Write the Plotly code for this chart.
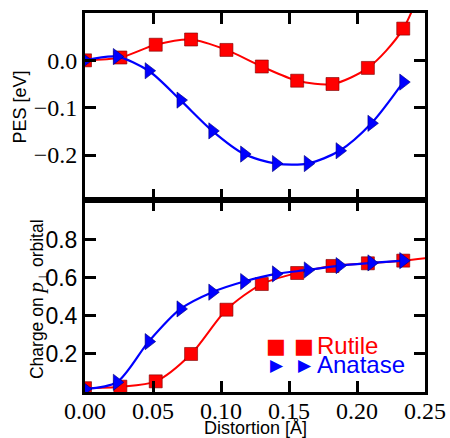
import plotly.graph_objects as go

# Data
rutile_x = [0.0, 0.026, 0.052, 0.078, 0.104, 0.130, 0.156, 0.182, 0.208, 0.234, 0.260]
rutile_pes = [0.0, 0.006, 0.033, 0.044, 0.022, -0.013, -0.043, -0.050, -0.016, 0.067, 0.26]
rutile_chg = [0.02, 0.028, 0.056, 0.20, 0.433, 0.568, 0.626, 0.663, 0.677, 0.691, 0.712]

anatase_x = [0.0, 0.0234, 0.0468, 0.0702, 0.0936, 0.117, 0.1404, 0.1638, 0.1872, 0.2106, 0.234]
anatase_pes = [0.0, 0.008, -0.022, -0.084, -0.149, -0.198, -0.218, -0.218, -0.191, -0.133, -0.046]
anatase_chg = [0.016, 0.051, 0.265, 0.437, 0.525, 0.581, 0.621, 0.642, 0.665, 0.679, 0.691]

x_ticks = [0.0, 0.05, 0.10, 0.15, 0.20, 0.25]
x_ticklabels = ["0.00", "0.05", "0.10", "0.15", "0.20", "0.25"]
pes_ticks = [0.0, -0.1, -0.2]
chg_ticks = [0.2, 0.4, 0.6, 0.8]

RED = "#ff0000"
BLUE = "#0000ff"
SERIF = "Liberation Serif, Times New Roman, serif"
SANS = "Liberation Sans, Arial, sans-serif"

fig = go.Figure()

sq_marker = dict(symbol="square", size=13, color=RED, line=dict(color="rgba(120,0,0,0.6)", width=1))
tr_marker = dict(symbol="triangle-right", size=14, color=BLUE, line=dict(color="rgba(0,0,120,0.6)", width=1))
SM = 0.8

fig.add_trace(go.Scatter(x=rutile_x, y=rutile_pes, mode="lines+markers",
                         line=dict(color=RED, width=2, shape="spline", smoothing=SM),
                         marker=sq_marker, xaxis="x", yaxis="y2", showlegend=False))
fig.add_trace(go.Scatter(x=anatase_x, y=anatase_pes, mode="lines+markers",
                         line=dict(color=BLUE, width=2.2, shape="spline", smoothing=SM),
                         marker=tr_marker, xaxis="x", yaxis="y2", showlegend=False))
fig.add_trace(go.Scatter(x=rutile_x, y=rutile_chg, mode="lines+markers",
                         line=dict(color=RED, width=2, shape="spline", smoothing=SM),
                         marker=sq_marker, xaxis="x2", yaxis="y", showlegend=False))
fig.add_trace(go.Scatter(x=anatase_x, y=anatase_chg, mode="lines+markers",
                         line=dict(color=BLUE, width=2.2, shape="spline", smoothing=SM),
                         marker=tr_marker, xaxis="x2", yaxis="y", showlegend=False))

split = 192 / 379

common_axis = dict(showline=True, linecolor="black", linewidth=3, mirror="ticks", ticks="inside",
                   ticklen=11, tickwidth=2.5, tickcolor="black", showgrid=False, zeroline=False,
                   automargin=False)

fig.update_layout(
    width=450, height=438,
    margin=dict(l=85, r=25, t=13, b=46, autoexpand=False),
    paper_bgcolor="white", plot_bgcolor="white",
    xaxis=dict(**common_axis, range=[0, 0.25], tickvals=x_ticks, showticklabels=False,
               anchor="y2", domain=[0, 1]),
    xaxis2=dict(**common_axis, range=[0, 0.25], tickvals=x_ticks, ticktext=x_ticklabels,
                tickfont=dict(family=SERIF, size=24, color="black"), anchor="y", domain=[0, 1],
                ticklabelstandoff=-5),
    yaxis2=dict(**common_axis, range=[-0.295, 0.1], tickvals=pes_ticks, tickformat=".1f",
                tickfont=dict(family=SERIF, size=24, color="black"), domain=[split, 1], anchor="x"),
    yaxis=dict(**common_axis, range=[0, 1.01], tickvals=chg_ticks, tickformat=".1f",
               tickfont=dict(family=SANS, size=23, color="black"), domain=[0, split], anchor="x2"),
)

fig.add_annotation(text="PES [eV]", xref="paper", yref="paper", x=-0.191, y=0.7507,
                   xanchor="center", yanchor="middle", textangle=-90, showarrow=False,
                   font=dict(family=SANS, size=18, color="black"))
fig.add_annotation(text="Charge on <span style='font-family:Liberation Serif;font-size:21px'><i>p</i></span><sub>⊥</sub> orbital",
                   xref="paper", yref="paper", x=-0.141, y=0.2454,
                   xanchor="center", yanchor="middle", textangle=-90, showarrow=False,
                   font=dict(family=SANS, size=17.5, color="black"))
fig.add_annotation(text="Distortion [Å]", xref="paper", yref="paper", x=0.5, y=0, yshift=-36,
                   xanchor="center", yanchor="middle", showarrow=False,
                   font=dict(family=SANS, size=18, color="black"))

# Legend (xmgrace style: two symbols then label)
for sx in [(276 - 85) / 340, (303.5 - 85) / 340]:
    fig.add_annotation(text="■", xref="paper", yref="paper", x=sx, y=0.121,
                       xanchor="center", yanchor="middle", showarrow=False,
                       font=dict(family="DejaVu Sans", size=21, color=RED))
    fig.add_annotation(text="▶", xref="paper", yref="paper", x=sx + 0.003, y=0.071,
                       xanchor="center", yanchor="middle", showarrow=False,
                       font=dict(family="DejaVu Sans", size=17, color=BLUE))
LX = (315 - 85) / 340
fig.add_annotation(text="Rutile", xref="paper", yref="paper", x=LX, y=0.123,
                   xanchor="left", yanchor="middle", showarrow=False,
                   font=dict(family=SANS, size=24, color=RED))
fig.add_annotation(text="Anatase", xref="paper", yref="paper", x=LX, y=0.072,
                   xanchor="left", yanchor="middle", showarrow=False,
                   font=dict(family=SANS, size=24, color=BLUE))

fig.write_html("out.html")
